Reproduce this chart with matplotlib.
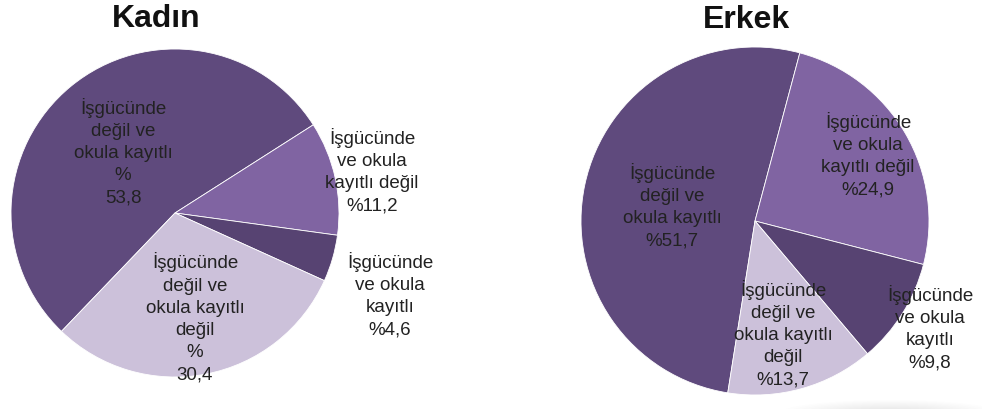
import matplotlib
matplotlib.use("Agg")
import matplotlib.pyplot as plt
from matplotlib.patches import Ellipse

plt.rcParams['font.family'] = ['Liberation Sans', 'DejaVu Sans']

# ---- data ----
titles = ["Kadın", "Erkek"]
kadin_values = [53.8, 11.2, 4.6, 30.4]
erkek_values = [51.7, 24.9, 9.8, 13.7]
kadin_labels = [
    "İşgücünde\ndeğil ve\nokula kayıtlı\n%\n53,8",
    "İşgücünde\nve okula\nkayıtlı değil\n%11,2",
    "İşgücünde\nve okula\nkayıtlı\n%4,6",
    "İşgücünde\ndeğil ve\nokula kayıtlı\ndeğil\n%\n30,4",
]
erkek_labels = [
    "İşgücünde\ndeğil ve\nokula kayıtlı\n%51,7",
    "İşgücünde\nve okula\nkayıtlı değil\n%24,9",
    "İşgücünde\nve okula\nkayıtlı\n%9,8",
    "İşgücünde\ndeğil ve\nokula kayıtlı\ndeğil\n%13,7",
]
colors = ["#5f4a7d", "#8064a2", "#574372", "#ccc1da"]

# ---- layout (pixel-based) ----
W, H = 982, 410
fig = plt.figure(figsize=(W / 100, H / 100), dpi=100)
ax = fig.add_axes([0, 0, 1, 1])

# faint soft shadow under the right pie
for i in range(12):
    ax.add_patch(Ellipse((890, -4), 220 - i * 15, 26 - i * 1.8, color="#000000",
                         alpha=0.009, lw=0, zorder=0))

pies = [
    dict(values=kadin_values, labels=kadin_labels, center=(175, H - 214), r=164,
         start=226.2, title_xy=(156, H - 19),
         label_xy=[(123, H - 152), (372, H - 171), (390, H - 295), (195, H - 318)]),
    dict(values=erkek_values, labels=erkek_labels, center=(755, H - 222), r=174,
         start=261.0, title_xy=(746, H - 20),
         label_xy=[(672, H - 206), (868, H - 155), (930, H - 328), (783, H - 334)]),
]

for title, p in zip(titles, pies):
    ax.pie(p["values"], colors=colors, startangle=p["start"], counterclock=False,
           center=p["center"], radius=p["r"], frame=True,
           wedgeprops=dict(edgecolor="white", linewidth=0.6))
    ax.text(*p["title_xy"], title, ha="center", va="center", fontsize=23,
            fontweight="bold", color="#111111")
    for (x, y), lab in zip(p["label_xy"], p["labels"]):
        ax.text(x, y, lab, ha="center", va="center", fontsize=13.5,
                color="#222222", linespacing=1.4)

ax.set_xlim(0, W)
ax.set_ylim(0, H)
ax.set_aspect("auto")
ax.axis("off")

fig.savefig("out.png", dpi=100, facecolor="white")
